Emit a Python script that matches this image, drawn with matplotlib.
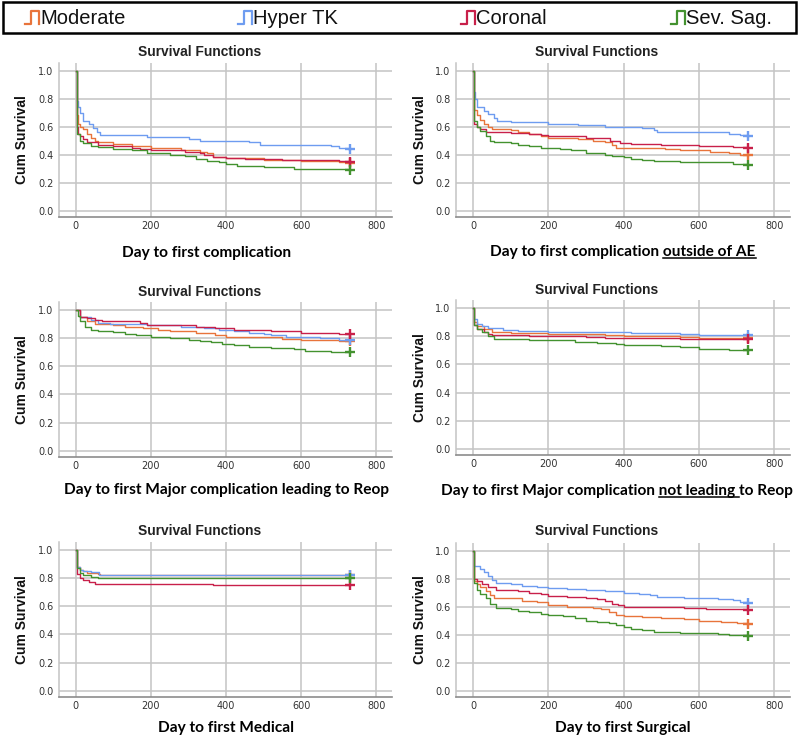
import matplotlib
matplotlib.use("Agg")
import matplotlib.pyplot as plt
from matplotlib.lines import Line2D

# ---- data ----
groups = ["Moderate", "Hyper TK", "Coronal", "Sev. Sag."]
colors = ["#E8743B", "#6E9CF0", "#C8204A", "#43922F"]

# A) Day to first complication
a_mod_t = [0, 2, 5, 12, 20, 30, 40, 50, 60, 100, 150, 200, 280, 330, 350, 365, 400, 500, 600, 700, 730]
a_mod_s = [1.0, 0.68, 0.62, 0.60, 0.58, 0.55, 0.52, 0.50, 0.49, 0.475, 0.46, 0.445, 0.43, 0.42, 0.41, 0.38, 0.375, 0.365, 0.355, 0.345, 0.338]
a_hyp_t = [0, 2, 5, 10, 20, 35, 45, 55, 65, 190, 300, 330, 460, 490, 680, 700, 725, 730]
a_hyp_s = [1.0, 0.78, 0.74, 0.70, 0.64, 0.62, 0.59, 0.56, 0.54, 0.525, 0.51, 0.50, 0.49, 0.47, 0.46, 0.45, 0.44, 0.44]
a_cor_t = [0, 2, 5, 10, 20, 30, 60, 100, 150, 170, 200, 290, 330, 340, 365, 400, 450, 550, 620, 700, 730]
a_cor_s = [1.0, 0.60, 0.55, 0.53, 0.51, 0.49, 0.47, 0.46, 0.45, 0.44, 0.43, 0.42, 0.41, 0.40, 0.38, 0.375, 0.37, 0.365, 0.36, 0.355, 0.35]
a_sev_t = [0, 2, 3, 10, 20, 40, 60, 100, 150, 190, 250, 290, 320, 350, 380, 400, 430, 500, 580, 680, 730]
a_sev_s = [1.0, 0.60, 0.55, 0.50, 0.48, 0.465, 0.455, 0.44, 0.43, 0.41, 0.40, 0.39, 0.37, 0.355, 0.35, 0.335, 0.32, 0.31, 0.30, 0.295, 0.29]

# B) Day to first complication outside of AE
b_mod_t = [0, 3, 10, 20, 30, 40, 50, 100, 120, 150, 180, 200, 280, 320, 350, 370, 380, 510, 550, 630, 680, 710, 730]
b_mod_s = [1.0, 0.72, 0.68, 0.65, 0.62, 0.60, 0.58, 0.575, 0.56, 0.55, 0.53, 0.52, 0.51, 0.50, 0.49, 0.47, 0.45, 0.44, 0.43, 0.42, 0.41, 0.40, 0.40]
b_hyp_t = [0, 2, 5, 12, 30, 40, 55, 65, 100, 150, 200, 280, 300, 350, 450, 480, 490, 680, 710, 730]
b_hyp_s = [1.0, 0.85, 0.80, 0.74, 0.71, 0.69, 0.66, 0.64, 0.635, 0.63, 0.62, 0.615, 0.61, 0.60, 0.59, 0.575, 0.56, 0.55, 0.54, 0.535]
b_cor_t = [0, 3, 10, 20, 35, 100, 150, 180, 200, 260, 300, 365, 390, 420, 500, 600, 690, 730]
b_cor_s = [1.0, 0.62, 0.60, 0.58, 0.56, 0.555, 0.55, 0.54, 0.535, 0.53, 0.52, 0.50, 0.48, 0.475, 0.47, 0.46, 0.455, 0.45]
b_sev_t = [0, 3, 10, 20, 35, 45, 55, 100, 120, 150, 180, 230, 260, 300, 350, 370, 400, 420, 450, 480, 550, 600, 690, 730]
b_sev_s = [1.0, 0.64, 0.60, 0.57, 0.53, 0.50, 0.49, 0.48, 0.47, 0.46, 0.45, 0.44, 0.43, 0.41, 0.40, 0.39, 0.38, 0.37, 0.36, 0.355, 0.35, 0.345, 0.33, 0.325]

# C) Day to first Major complication leading to Reop
c_mod_t = [0, 10, 30, 50, 100, 130, 180, 220, 250, 320, 370, 400, 550, 600, 650, 700, 730]
c_mod_s = [1.0, 0.95, 0.92, 0.90, 0.89, 0.88, 0.87, 0.86, 0.85, 0.84, 0.82, 0.805, 0.795, 0.79, 0.785, 0.78, 0.777]
c_hyp_t = [0, 10, 40, 60, 90, 190, 280, 340, 380, 420, 460, 500, 520, 560, 650, 700, 730]
c_hyp_s = [1.0, 0.95, 0.93, 0.91, 0.90, 0.89, 0.88, 0.87, 0.86, 0.85, 0.84, 0.83, 0.82, 0.81, 0.80, 0.79, 0.785]
c_cor_t = [0, 10, 30, 50, 70, 170, 190, 250, 320, 370, 420, 470, 520, 600, 650, 700, 730]
c_cor_s = [1.0, 0.95, 0.94, 0.93, 0.92, 0.91, 0.895, 0.89, 0.88, 0.87, 0.86, 0.855, 0.85, 0.84, 0.835, 0.83, 0.83]
c_sev_t = [0, 5, 10, 25, 40, 60, 100, 130, 160, 200, 250, 300, 330, 360, 390, 420, 460, 520, 580, 610, 680, 730]
c_sev_s = [1.0, 0.96, 0.92, 0.88, 0.86, 0.85, 0.845, 0.83, 0.82, 0.81, 0.80, 0.79, 0.78, 0.77, 0.76, 0.75, 0.74, 0.73, 0.72, 0.71, 0.70, 0.70]

# D) Day to first Major complication not leading to Reop
d_mod_t = [0, 3, 10, 30, 50, 100, 150, 200, 350, 400, 550, 600, 730]
d_mod_s = [1.0, 0.90, 0.87, 0.85, 0.83, 0.825, 0.82, 0.815, 0.81, 0.80, 0.795, 0.79, 0.79]
d_hyp_t = [0, 3, 10, 25, 40, 55, 80, 120, 150, 200, 420, 480, 550, 600, 730]
d_hyp_s = [1.0, 0.92, 0.89, 0.87, 0.86, 0.855, 0.845, 0.84, 0.835, 0.83, 0.825, 0.82, 0.815, 0.81, 0.81]
d_cor_t = [0, 3, 10, 30, 40, 50, 150, 200, 300, 350, 380, 550, 730]
d_cor_s = [1.0, 0.88, 0.85, 0.83, 0.815, 0.81, 0.805, 0.80, 0.795, 0.79, 0.785, 0.78, 0.78]
d_sev_t = [0, 3, 10, 25, 40, 55, 150, 200, 270, 330, 380, 400, 460, 500, 550, 600, 680, 730]
d_sev_s = [1.0, 0.88, 0.85, 0.83, 0.80, 0.78, 0.775, 0.77, 0.76, 0.755, 0.745, 0.74, 0.735, 0.73, 0.72, 0.71, 0.705, 0.70]

# E) Day to first Medical
e_mod_t = [0, 3, 10, 20, 30, 50, 60, 65, 730]
e_mod_s = [1.0, 0.88, 0.86, 0.85, 0.84, 0.835, 0.83, 0.825, 0.825]
e_hyp_t = [0, 3, 10, 20, 40, 62, 730]
e_hyp_s = [1.0, 0.88, 0.86, 0.85, 0.845, 0.82, 0.82]
e_cor_t = [0, 3, 10, 20, 35, 50, 365, 730]
e_cor_s = [1.0, 0.83, 0.80, 0.79, 0.77, 0.756, 0.748, 0.748]
e_sev_t = [0, 3, 10, 20, 40, 60, 730]
e_sev_s = [1.0, 0.87, 0.84, 0.82, 0.81, 0.803, 0.803]

# F) Day to first Surgical
f_mod_t = [0, 3, 10, 20, 35, 45, 55, 100, 130, 170, 200, 250, 320, 340, 360, 380, 400, 450, 500, 560, 600, 660, 700, 730]
f_mod_s = [1.0, 0.78, 0.76, 0.74, 0.71, 0.68, 0.665, 0.66, 0.64, 0.63, 0.61, 0.60, 0.59, 0.58, 0.56, 0.54, 0.53, 0.525, 0.52, 0.51, 0.50, 0.49, 0.48, 0.476]
f_hyp_t = [0, 3, 20, 30, 40, 50, 60, 100, 130, 170, 200, 250, 300, 350, 400, 440, 470, 490, 560, 650, 690, 710, 730]
f_hyp_s = [1.0, 0.89, 0.87, 0.85, 0.82, 0.79, 0.77, 0.76, 0.75, 0.74, 0.735, 0.725, 0.72, 0.71, 0.70, 0.69, 0.68, 0.67, 0.66, 0.655, 0.645, 0.635, 0.628]
f_cor_t = [0, 3, 10, 25, 40, 60, 120, 150, 180, 200, 250, 300, 330, 350, 370, 385, 400, 500, 560, 620, 730]
f_cor_s = [1.0, 0.80, 0.78, 0.76, 0.74, 0.72, 0.71, 0.70, 0.69, 0.675, 0.67, 0.66, 0.655, 0.64, 0.62, 0.61, 0.60, 0.595, 0.59, 0.585, 0.578]
f_sev_t = [0, 3, 10, 20, 35, 45, 60, 100, 120, 150, 180, 200, 240, 270, 300, 330, 360, 380, 400, 420, 450, 480, 550, 600, 650, 680, 730]
f_sev_s = [1.0, 0.77, 0.72, 0.69, 0.66, 0.62, 0.59, 0.58, 0.57, 0.56, 0.55, 0.54, 0.53, 0.52, 0.50, 0.49, 0.48, 0.47, 0.455, 0.44, 0.43, 0.42, 0.415, 0.41, 0.405, 0.395, 0.392]

x_ticks = [0, 200, 400, 600, 800]
y_ticks = [0.0, 0.2, 0.4, 0.6, 0.8, 1.0]

# ---- layout in pixels ----
W, H = 799, 744
fig = plt.figure(figsize=(W / 100, H / 100), dpi=100)


def fx(x):
    return x / W


def fy(y):
    return 1 - y / H


XL_FONT = dict(family="Lato", weight="bold", fontsize=11.1, color="black")

panels = [
    # (left, top, right, bottom), title xy, ylabel x, xlabel parts, xlabel xy, series
    ((59, 62.7, 392, 216.7), (200, 52), 22, [("Day to first complication", False)], (207, 253),
     [(a_mod_t, a_mod_s), (a_hyp_t, a_hyp_s), (a_cor_t, a_cor_s), (a_sev_t, a_sev_s)]),
    ((456, 62.7, 790, 216.7), (597, 52), 420,
     [("Day to first complication ", False), ("outside of AE", True)], (623, 252),
     [(b_mod_t, b_mod_s), (b_hyp_t, b_hyp_s), (b_cor_t, b_cor_s), (b_sev_t, b_sev_s)]),
    ((59, 302, 392, 456.7), (200, 292), 22,
     [("Day to first Major complication leading to Reop", False)], (226, 490),
     [(c_mod_t, c_mod_s), (c_hyp_t, c_hyp_s), (c_cor_t, c_cor_s), (c_sev_t, c_sev_s)]),
    ((456, 300, 790, 455), (597, 290), 420,
     [("Day to first Major complication ", False), ("not leading ", True), ("to Reop", False)], (617, 491),
     [(d_mod_t, d_mod_s), (d_hyp_t, d_hyp_s), (d_cor_t, d_cor_s), (d_sev_t, d_sev_s)]),
    ((59, 542, 392, 696.7), (200, 531), 22, [("Day to first Medical", False)], (226, 728),
     [(e_mod_t, e_mod_s), (e_hyp_t, e_hyp_s), (e_cor_t, e_cor_s), (e_sev_t, e_sev_s)]),
    ((456, 542.7, 790, 696.7), (597, 531), 420, [("Day to first Surgical", False)], (623, 728),
     [(f_mod_t, f_mod_s), (f_hyp_t, f_hyp_s), (f_cor_t, f_cor_s), (f_sev_t, f_sev_s)]),
]

grid_c = "#C4C4C4"
for (l, t, r, b), (tx, ty), ylx, parts, (lx, ly), series in panels:
    ax = fig.add_axes([fx(l), fy(b), (r - l) / W, (b - t) / H])
    for (tt, ss), c in zip(series, colors):
        ax.step(tt, ss, where="post", color=c, lw=1.0)
        ax.plot(tt[-1], ss[-1], marker="+", ms=6.5, mew=1.7, color=c)
    ax.set_xlim(-45, 842)
    ax.set_ylim(-0.043, 1.057)
    ax.set_xticks(x_ticks)
    ax.set_yticks(y_ticks)
    ax.set_yticklabels([f"{v:.1f}" for v in y_ticks])
    ax.grid(True, color=grid_c, lw=1.1)
    ax.set_axisbelow(True)
    ax.tick_params(length=0, labelsize=7, labelcolor="#333333", pad=3)
    ax.tick_params(axis="y", pad=4)
    for sp in ["top", "right"]:
        ax.spines[sp].set_visible(False)
    ax.spines["left"].set_color(grid_c)
    ax.spines["left"].set_linewidth(1.1)
    ax.spines["bottom"].set_color("#8C8C8C")
    ax.spines["bottom"].set_linewidth(1.2)

    fig.text(fx(tx), fy(ty), "Survival Functions", ha="center", va="center",
             family="Liberation Sans", weight="bold", fontsize=9.9, color="#222222")
    fig.text(fx(ylx), fy((t + b) / 2), "Cum Survival", ha="center", va="center", rotation=90,
             family="Liberation Sans", weight="bold", fontsize=10, color="#111111")

    panel_label = fig.text(fx(lx), fy(ly), "".join(p for p, _ in parts), ha="center", va="center", **XL_FONT)
    panel_label.parts = parts

# underlines need text extents
fig.canvas.draw()
renderer = fig.canvas.get_renderer()


def text_w(s):
    tmp = fig.text(0, 0, s + "l", **XL_FONT)
    ref = fig.text(0, 0, "l", **XL_FONT)
    w = tmp.get_window_extent(renderer).width - ref.get_window_extent(renderer).width
    tmp.remove()
    ref.remove()
    return w


for txt in list(fig.texts):
    parts = getattr(txt, "parts", None)
    if not parts or not any(u for _, u in parts):
        continue
    bb = txt.get_window_extent(renderer)
    x = bb.x0
    for p, u in parts:
        w = text_w(p)
        if u:
            yline = bb.y0 + 1.5
            fig.add_artist(Line2D([x / W, (x + w) / W], [yline / H, yline / H],
                                  transform=fig.transFigure, color="black", lw=1.1))
        x += w

# ---- legend strip at the top ----
fig.add_artist(plt.Rectangle((fx(3), fy(33)), (793) / W, 31 / H, transform=fig.transFigure,
                             fill=False, edgecolor="black", lw=1.8))
leg_x = [25, 238, 461, 671]
for name, c, x0 in zip(groups, colors, leg_x):
    yb, yt = 24, 11
    xs = [x0, x0 + 6, x0 + 6, x0 + 14, x0 + 14]
    ys = [yb, yb, yt, yt, yb]
    fig.add_artist(Line2D([fx(v) for v in xs], [fy(v) for v in ys], transform=fig.transFigure,
                          color=c, lw=1.6))
    fig.text(fx(x0 + 15), fy(18), name, ha="left", va="center", family="Liberation Sans",
             fontsize=14.5, color="#111111")

fig.savefig("out.png", dpi=100)
